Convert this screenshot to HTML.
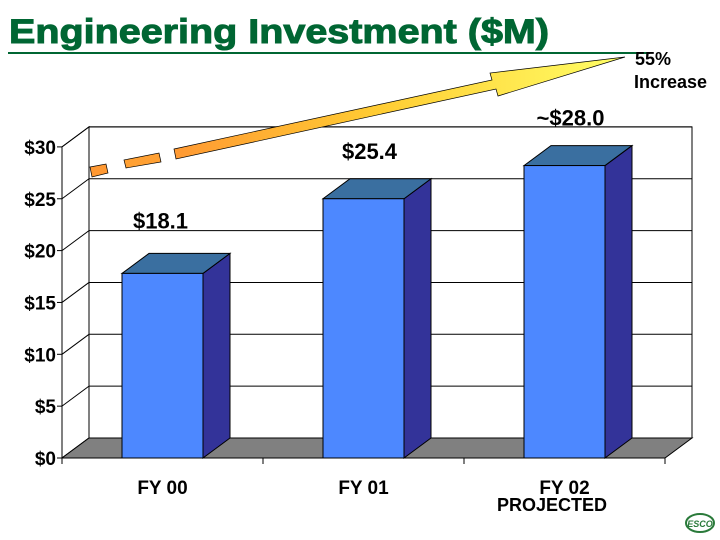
<!DOCTYPE html>
<html><head><meta charset="utf-8"><style>
body{margin:0;background:#fff;}
svg{display:block;font-family:"Liberation Sans",Arial,sans-serif;}
</style></head><body>
<svg id="c" width="720" height="540" viewBox="0 0 720 540">
<defs>
<linearGradient id="ag" x1="0" y1="0" x2="1" y2="0">
<stop offset="0" stop-color="#ff9933"/><stop offset="0.45" stop-color="#ffcc33"/><stop offset="1" stop-color="#ffff66"/>
</linearGradient>
</defs>
<text x="9" y="43" font-size="34" font-weight="bold" fill="#006633" textLength="540" lengthAdjust="spacingAndGlyphs" stroke="#006633" stroke-width="1">Engineering Investment ($M)</text>
<line x1="8" y1="53" x2="650" y2="53" stroke="#006633" stroke-width="2"/>
<g id="plot"></g>
<g>
<polygon points="90,167 106,164 108,173 92,177" fill="#ff9933" stroke="#000" stroke-width="0.7"/>
<polygon points="124,160 159,153 161,162 126,168" fill="#ffa033" stroke="#000" stroke-width="0.7"/>
<polygon points="174,149 492,80 490,73 625,57 498,96 496,89 176,159" fill="url(#ag)" stroke="#000" stroke-width="0.7"/>
</g>
<text x="635" y="65" font-size="18" font-weight="bold">55%</text>
<text x="634" y="88" font-size="18" font-weight="bold">Increase</text>
<text x="552" y="511" font-size="18" font-weight="bold" text-anchor="middle">PROJECTED</text>
<g>
<ellipse cx="700" cy="523" rx="14" ry="9" fill="#fff" stroke="#2a7a3a" stroke-width="2"/>
<text x="700" y="527" font-size="9" font-weight="bold" font-style="italic" fill="#2a7a3a" text-anchor="middle">ESCO</text>
</g>
</svg>
<script>
const categories=["FY 00","FY 01","FY 02"];
const values=[17.8,25.0,28.2];
const valueLabels=["$18.1","$25.4","~$28.0"];
const yTicks=[0,5,10,15,20,25,30];
const yTickLabels=["$0","$5","$10","$15","$20","$25","$30"];
const NS="http://www.w3.org/2000/svg";
const g=document.getElementById("plot");
const X0=62,X1=665,Y0=458,K=10.37,DX=27,DY=-20;
const y=v=>Y0-v*K;
const bw=(X1-X0)/categories.length;
const xc=i=>X0+bw*(i+0.5);
function mk(t,a,name){const e=document.createElementNS(NS,t);for(const k in a)e.setAttribute(k,a[k]);


g.appendChild(e);return e;}
mk("rect",{x:X0+DX,y:y(30)+DY,width:X1-X0,height:30*K,fill:"#fff",stroke:"#000","stroke-width":1},"back-wall");
mk("polygon",{points:`${X0},${y(0)} ${X0+DX},${y(0)+DY} ${X0+DX},${y(30)+DY} ${X0},${y(30)}`,fill:"#fff",stroke:"#000","stroke-width":1},"side-wall");
yTicks.forEach((v,i)=>{
 mk("line",{x1:X0+DX,y1:y(v)+DY,x2:X1+DX,y2:y(v)+DY,stroke:"#000","stroke-width":1},"gridline");
 mk("line",{x1:X0,y1:y(v),x2:X0+DX,y2:y(v)+DY,stroke:"#000","stroke-width":1},"side-gridline");
 mk("line",{x1:X0-5,y1:y(v),x2:X0,y2:y(v),stroke:"#000","stroke-width":1},"y-tick");
 const t=mk("text",{x:X0-6,y:y(v)+7,"font-size":19,"font-weight":"bold","text-anchor":"end"},"y-tick-label");t.textContent=yTickLabels[i];
});
mk("polygon",{points:`${X0},${Y0} ${X1},${Y0} ${X1+DX},${Y0+DY} ${X0+DX},${Y0+DY}`,fill:"#808080",stroke:"#000","stroke-width":1},"floor");
mk("line",{x1:X0,y1:Y0,x2:X0,y2:Y0+6,stroke:"#000"},"x-tick");
categories.forEach((c,i)=>{
 mk("line",{x1:X0+bw*(i+1),y1:Y0,x2:X0+bw*(i+1),y2:Y0+6,stroke:"#000"},"x-tick");
 const w=81,l=xc(i)-w/2,r=l+w,top=y(values[i]);
 mk("polygon",{points:`${r},${Y0} ${r+DX},${Y0+DY} ${r+DX},${top+DY} ${r},${top}`,fill:"#333399",stroke:"#000","stroke-width":1},"bar-side-"+c.replace(" ","").toLowerCase());
 mk("polygon",{points:`${l},${top} ${r},${top} ${r+DX},${top+DY} ${l+DX},${top+DY}`,fill:"#3a6fa0",stroke:"#000","stroke-width":1},"bar-top-"+c.replace(" ","").toLowerCase());
 mk("rect",{x:l,y:top,width:w,height:Y0-top,fill:"#4d88ff",stroke:"#000","stroke-width":1},"bar-"+c.replace(" ","").toLowerCase());
 const lb=mk("text",{x:xc(i)+(i==0?-2:6),y:top-(i==0?45:40),"font-size":22,"font-weight":"bold","text-anchor":"middle"},"value-label");lb.textContent=valueLabels[i];
 const ct=mk("text",{x:xc(i),y:Y0+36,"font-size":19,"font-weight":"bold","text-anchor":"middle"},"x-tick-label");ct.textContent=c;
});
</script>
</body></html>
